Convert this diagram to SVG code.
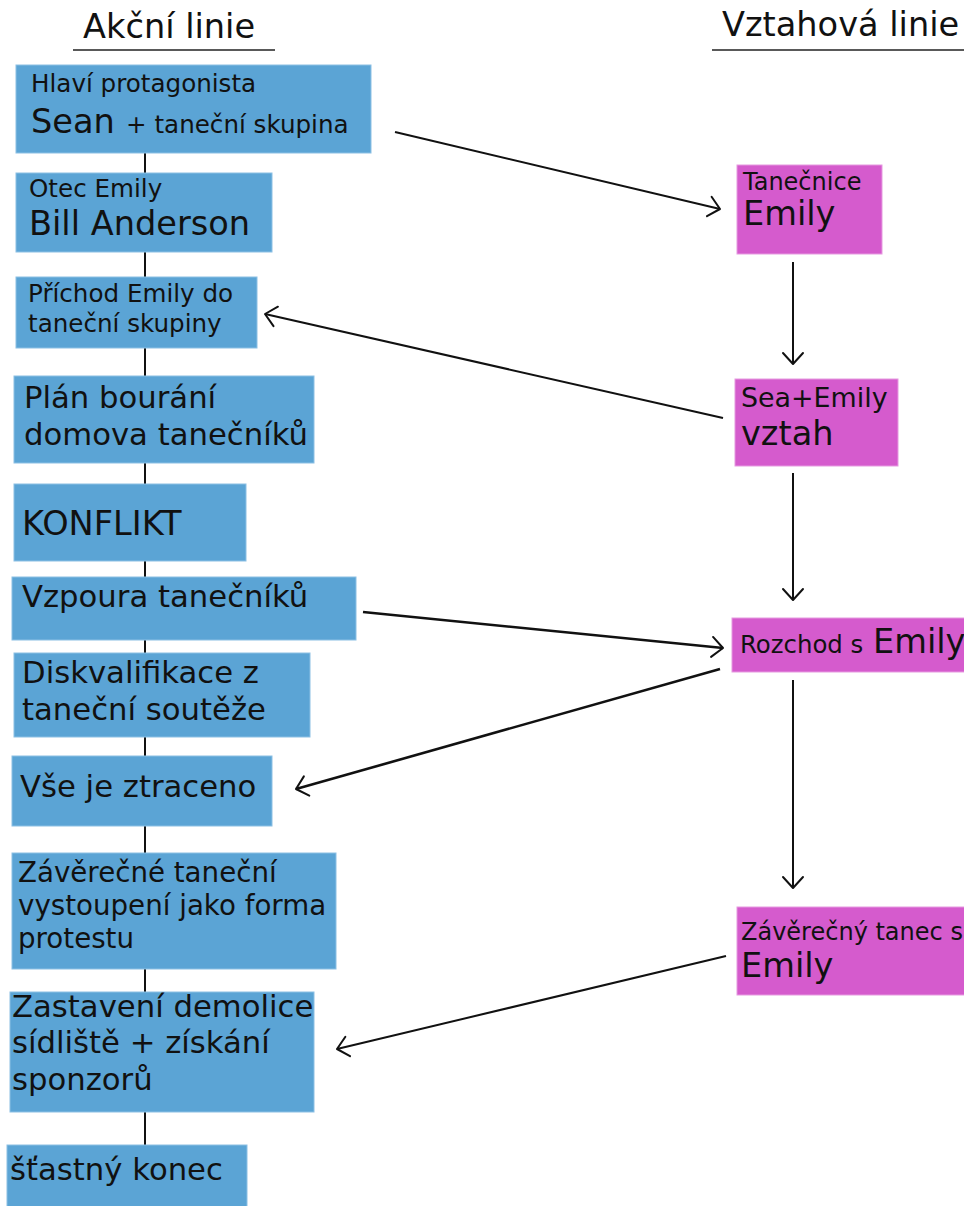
<svg xmlns="http://www.w3.org/2000/svg" width="964" height="1206" viewBox="0 0 964 1206">
<defs>
<marker id="arr" markerUnits="userSpaceOnUse" markerWidth="30" markerHeight="30" viewBox="-15 -15 30 30" refX="0" refY="0" orient="auto" overflow="visible">
<path d="M-11,-10 L0,0 L-11,10" fill="none" stroke="#111" stroke-width="2" stroke-linecap="round" stroke-linejoin="round"/>
</marker>
<style>
.b{fill:#5ba4d5;stroke:#8cc0e4;stroke-width:1}
.p{fill:#d55bcd;stroke:#e69ae0;stroke-width:1}
text{font-family:"DejaVu Sans","Verdana",sans-serif;fill:#111}
.c{stroke:#111;stroke-width:2;fill:none}
.t{stroke:#111;stroke-width:2.6;fill:none}
.s24{font-size:24px}
.s25{font-size:24.6px}
.s26{font-size:26.9px}
.s27{font-size:27.7px}
.s30{font-size:30.7px}
.s33{font-size:33.6px}
</style>
</defs>
<rect width="964" height="1206" fill="#fff"/>
<g id="titles">
<text x="83" y="38" class="s33">Akční linie</text>
<line x1="73" y1="50" x2="275" y2="50" stroke="#222" stroke-width="1.6"/>
<text x="722" y="36" class="s33">Vztahová linie</text>
<line x1="712" y1="50" x2="964" y2="50" stroke="#222" stroke-width="1.6"/>
</g>
<g id="connectors">
<line class="c" x1="145" y1="153" x2="145" y2="1146"/>
<line class="c" x1="395" y1="132" x2="720" y2="209" marker-end="url(#arr)"/>
<line class="c" x1="793" y1="262" x2="793" y2="364" marker-end="url(#arr)"/>
<line class="c" x1="723" y1="418" x2="265" y2="314" marker-end="url(#arr)"/>
<line class="c" x1="793" y1="473" x2="793" y2="600" marker-end="url(#arr)"/>
<line class="t" x1="363" y1="612" x2="723" y2="648" marker-end="url(#arr)"/>
<line class="t" x1="720" y1="669" x2="296" y2="789" marker-end="url(#arr)"/>
<line class="c" x1="793" y1="680" x2="793" y2="888" marker-end="url(#arr)"/>
<line class="c" x1="726" y1="956" x2="337" y2="1049" marker-end="url(#arr)"/>
</g>
<g id="n1">
<rect class="b" x="16" y="65" width="355" height="88"/>
<text x="31" y="92" class="s25">Hlaví protagonista</text>
<text x="31" y="133" class="s33">Sean</text>
<text x="126" y="133" class="s25">+ taneční skupina</text>
</g>
<g id="n2">
<rect class="b" x="16" y="173" width="256" height="79"/>
<text x="29" y="197" class="s25">Otec Emily</text>
<text x="29" y="235" class="s33">Bill Anderson</text>
</g>
<g id="n3">
<rect class="b" x="16" y="277" width="241" height="71"/>
<text x="28" y="302" class="s25">Příchod Emily do</text>
<text x="28" y="332" class="s25">taneční skupiny</text>
</g>
<g id="n4">
<rect class="b" x="14" y="376" width="300" height="87"/>
<text x="24" y="408" class="s30">Plán bourání</text>
<text x="24" y="445" class="s30">domova tanečníků</text>
</g>
<g id="n5">
<rect class="b" x="14" y="484" width="232" height="77"/>
<text x="22" y="535" class="s33">KONFLIKT</text>
</g>
<g id="n6">
<rect class="b" x="12" y="577" width="344" height="63"/>
<text x="22" y="607" class="s30">Vzpoura tanečníků</text>
</g>
<g id="n7">
<rect class="b" x="14" y="653" width="296" height="84"/>
<text x="22" y="683" class="s30">Diskvalifikace z</text>
<text x="22" y="720" class="s30">taneční soutěže</text>
</g>
<g id="n8">
<rect class="b" x="12" y="756" width="260" height="70"/>
<text x="20" y="797" class="s30">Vše je ztraceno</text>
</g>
<g id="n9">
<rect class="b" x="12" y="853" width="324" height="116"/>
<text x="18" y="882" class="s27">Závěrečné taneční</text>
<text x="18" y="915" class="s27">vystoupení jako forma</text>
<text x="18" y="948" class="s27">protestu</text>
</g>
<g id="n10">
<rect class="b" x="10" y="992" width="304" height="120"/>
<text x="12" y="1017" class="s30">Zastavení demolice</text>
<text x="12" y="1053" class="s30">sídliště + získání</text>
<text x="12" y="1090" class="s30">sponzorů</text>
</g>
<g id="n11">
<rect class="b" x="7" y="1145" width="240" height="65"/>
<text x="10" y="1180" class="s30">šťastný konec</text>
</g>
<g id="r1">
<rect class="p" x="737" y="165" width="145" height="89"/>
<text x="743" y="190" class="s24">Tanečnice</text>
<text x="743" y="225" class="s33">Emily</text>
</g>
<g id="r2">
<rect class="p" x="735" y="379" width="163" height="87"/>
<text x="741" y="407" class="s26">Sea+Emily</text>
<text x="741" y="445" class="s33">vztah</text>
</g>
<g id="r3">
<rect class="p" x="732" y="618" width="240" height="54"/>
<text x="740" y="653" font-size="24.4px">Rozchod s</text>
<text x="873" y="653" class="s33">Emily</text>
</g>
<g id="r4">
<rect class="p" x="737" y="907" width="240" height="88"/>
<text x="741" y="940" class="s24">Závěrečný tanec s</text>
<text x="741" y="977" class="s33">Emily</text>
</g>
</svg>
